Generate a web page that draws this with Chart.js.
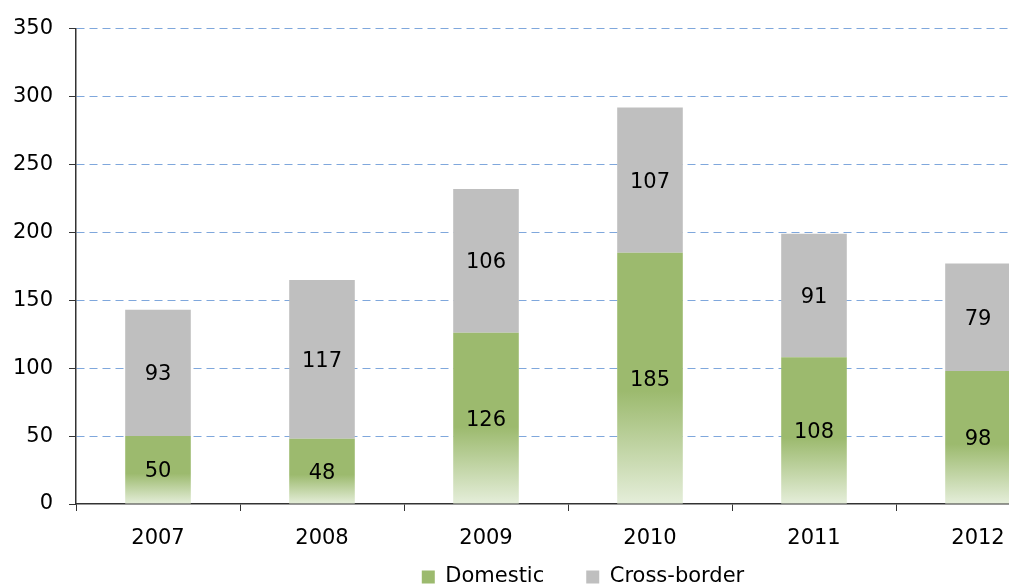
<!DOCTYPE html>
<html>
<head>
<meta charset="utf-8">
<script src="https://cdn.jsdelivr.net/npm/chart.js@4/dist/chart.umd.min.js"></script>
<style>
  html, body { margin: 0; padding: 0; background: #fff; overflow: hidden; }
  .wrap { position: relative; width: 1166px; height: 625px; }
</style>
</head>
<body>
<div class="wrap"><canvas id="chart"></canvas></div>
<script>
const years = ["2007", "2008", "2009", "2010", "2011", "2012"];
const domestic = [50, 48, 126, 185, 108, 98];
const crossBorder = [93, 117, 106, 107, 91, 79];
const yTicks = [0, 50, 100, 150, 200, 250, 300, 350];

const FONT = "'DejaVu Sans', Verdana, sans-serif";
const GREEN = "#9CBA6E";

// green bars fade out towards the bottom of each segment
function domesticFill(c) {
  const chart = c.chart;
  if (!chart.chartArea || c.dataIndex === undefined) return GREEN;
  const y = chart.scales.y;
  const bottom = y.getPixelForValue(0);
  const top = y.getPixelForValue(c.raw);
  const g = chart.ctx.createLinearGradient(0, bottom, 0, top);
  g.addColorStop(0, "#E5EEDA");
  g.addColorStop(0.45, GREEN);
  g.addColorStop(1, GREEN);
  return g;
}

const valueLabels = {
  id: "valueLabels",
  afterDatasetsDraw(chart) {
    const ctx = chart.ctx;
    ctx.save();
    ctx.font = "21px " + FONT;
    ctx.fillStyle = "#000";
    ctx.textAlign = "center";
    ctx.textBaseline = "middle";
    chart.data.datasets.forEach((ds, i) => {
      chart.getDatasetMeta(i).data.forEach((bar, j) => {
        const mid = (bar.y + bar.base) / 2 + 2;
        ctx.fillText(ds.data[j], bar.x, mid);
      });
    });
    ctx.restore();
  }
};

// legend needs wide item spacing but sits close under the axis labels
const legendNudge = {
  id: "legendNudge",
  afterLayout(chart) {
    chart.legend.top -= 27.5;
    chart.legend.bottom -= 27.5;
  }
};

new Chart(document.getElementById("chart"), {
  type: "bar",
  data: {
    labels: years,
    datasets: [
      {
        label: "Domestic",
        data: domestic,
        backgroundColor: domesticFill,
        barPercentage: 0.4,
        categoryPercentage: 1
      },
      {
        label: "Cross-border",
        data: crossBorder,
        backgroundColor: "#BFBFBF",
        barPercentage: 0.4,
        categoryPercentage: 1
      }
    ]
  },
  options: {
    responsive: true,
    maintainAspectRatio: false,
    animation: false,
    layout: { padding: { top: 25, left: 0, right: 0, bottom: 0 } },
    plugins: {
      tooltip: { enabled: false },
      legend: {
        position: "bottom",
        labels: {
          font: { family: FONT, size: 21 },
          color: "#000",
          boxWidth: 13,
          boxHeight: 13,
          padding: 42,
          generateLabels: chart => {
            const items = Chart.defaults.plugins.legend.labels.generateLabels(chart);
            items.forEach(it => {
              if (it.datasetIndex === 0) it.fillStyle = GREEN;
              it.lineWidth = 0;
            });
            return items;
          }
        }
      }
    },
    scales: {
      x: {
        stacked: true,
        afterFit: s => { s.height = 48; },
        grid: {
          drawOnChartArea: false,
          drawTicks: true,
          tickLength: 7,
          tickColor: "#333"
        },
        border: { display: true, color: "#333", width: 1.5 },
        ticks: {
          font: { family: FONT, size: 21 },
          color: "#000",
          padding: 15
        }
      },
      y: {
        stacked: true,
        min: 0,
        max: 350,
        afterFit: s => { s.width = 76; },
        afterBuildTicks: s => { s.ticks = yTicks.map(v => ({ value: v })); },
        grid: {
          color: c => (c.tick && c.tick.value === 0 ? "rgba(0,0,0,0)" : "#7FA7DC"),
          lineWidth: 1,
          tickLength: 7,
          tickColor: "#333"
        },
        border: { display: true, color: "#333", width: 1.5, dash: [8, 5] },
        ticks: {
          font: { family: FONT, size: 21 },
          color: "#000",
          padding: 16
        }
      },
      // empty space on the right so the plot runs past the window edge
      spacer: {
        position: "right",
        display: true,
        grid: { display: false },
        border: { display: false },
        ticks: { display: false },
        afterFit: s => { s.width = 106; }
      }
    }
  },
  plugins: [valueLabels, legendNudge]
});
</script>
</body>
</html>
